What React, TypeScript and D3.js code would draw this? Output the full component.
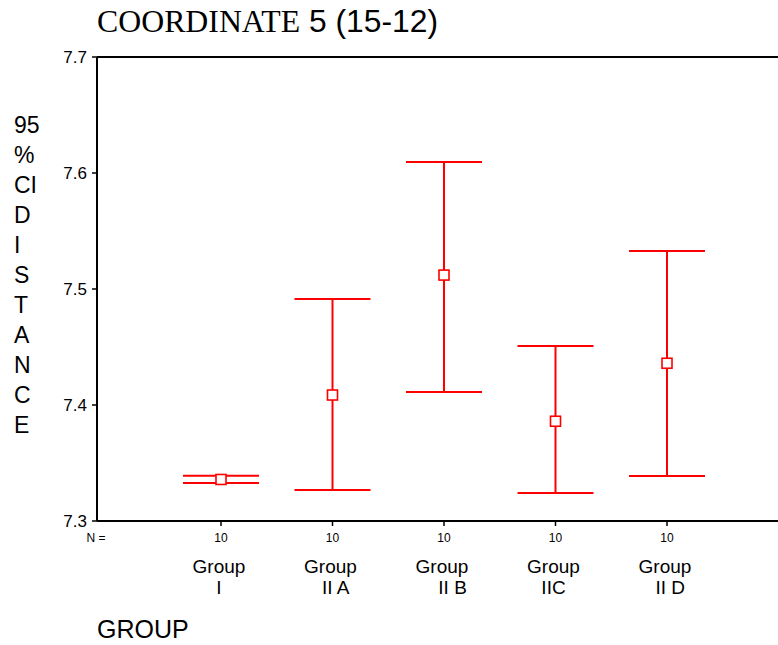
import React from "react";
import * as d3 from "d3";

// chart values
const groups = ["Group I", "Group II A", "Group II B", "Group IIC", "Group II D"];
const line1 = ["Group", "Group", "Group", "Group", "Group"];
const line2 = ["I", "  II A", "    II B", "IIC", "  II D"];
const nCounts = [10, 10, 10, 10, 10];
const means = [7.3358, 7.4086, 7.512, 7.386, 7.436];
const lower = [7.3328, 7.3267, 7.4112, 7.3241, 7.3388];
const upper = [7.339, 7.4914, 7.6095, 7.4509, 7.5328];
const yTicks = [7.3, 7.4, 7.5, 7.6, 7.7];
const yTitle = ["95", "%", "CI", "D", "I", "S", "T", "A", "N", "C", "E"];

const W = 778;
const H = 645;
const RED = "#ff0000";

export default function App() {
  const left = 97;
  const top = 57;
  const bottom = 521;

  const y = d3.scaleLinear().domain([7.3, 7.7]).range([bottom, top]);
  const x = d3.scalePoint<string>().domain(groups).range([221, 667]);
  const cap = 38;
  const sq = 5;

  return (
    <svg
      width={W}
      height={H}
      style={{ position: "absolute", left: 0, top: 0, background: "#fff" }}
      fontFamily="Arial, 'Liberation Sans', sans-serif"
    >
      {/* title */}
      <text x={left} y={32} fontSize={31.8} fill="#000">
        <tspan fontFamily="'Times New Roman', 'Liberation Serif', serif">COORDINATE</tspan>
        <tspan> 5 (15-12)</tspan>
      </text>

      {/* y axis title, one letter per line, left aligned */}
      {yTitle.map((t, i) => (
        <text key={t + i} x={14} y={133 + i * 30} fontSize={23} fill="#000">
          {t}
        </text>
      ))}

      {/* frame */}
      <line x1={left} x2={W} y1={top} y2={top} stroke="#000" strokeWidth={2} />
      <line x1={left} x2={W} y1={bottom} y2={bottom} stroke="#000" strokeWidth={2} />
      <line x1={left} x2={left} y1={top} y2={bottom} stroke="#000" strokeWidth={2} />

      {/* y ticks */}
      {yTicks.map((t) => (
        <g key={t}>
          <line x1={left - 5} x2={left} y1={y(t)} y2={y(t)} stroke="#000" strokeWidth={1.5} />
          <text x={left - 10} y={y(t) + 6} fontSize={17} textAnchor="end" fill="#000">
            {d3.format(".1f")(t)}
          </text>
        </g>
      ))}

      {/* x ticks, N and labels */}
      <text x={96} y={542} fontSize={12} textAnchor="middle" fill="#000">N =</text>
      {groups.map((g, i) => {
        const cx = x(g)!;
        return (
          <g key={g}>
            <line x1={cx} x2={cx} y1={bottom} y2={bottom + 5} stroke="#000" strokeWidth={1.5} />
            <text x={cx} y={542} fontSize={12} textAnchor="middle" fill="#000">{nCounts[i]}</text>
            <text x={cx - 2} y={573} fontSize={19} textAnchor="middle" fill="#000">{line1[i]}</text>
            <text x={cx - 2} y={594} fontSize={19} textAnchor="middle" fill="#000" style={{ whiteSpace: "pre" }}>
              {line2[i]}
            </text>
          </g>
        );
      })}

      <text x={97} y={638} fontSize={25} fill="#000">GROUP</text>

      {/* error bars */}
      {groups.map((g, i) => {
        const cx = x(g)!;
        return (
          <g key={g} stroke={RED} strokeWidth={2} fill="none">
            <line x1={cx} x2={cx} y1={y(upper[i])} y2={y(lower[i])} />
            <line x1={cx - cap} x2={cx + cap} y1={y(upper[i])} y2={y(upper[i])} />
            <line x1={cx - cap} x2={cx + cap} y1={y(lower[i])} y2={y(lower[i])} />
            <rect x={cx - sq} y={y(means[i]) - sq} width={sq * 2} height={sq * 2} fill="#fff" strokeWidth={1.6} />
          </g>
        );
      })}
    </svg>
  );
}
